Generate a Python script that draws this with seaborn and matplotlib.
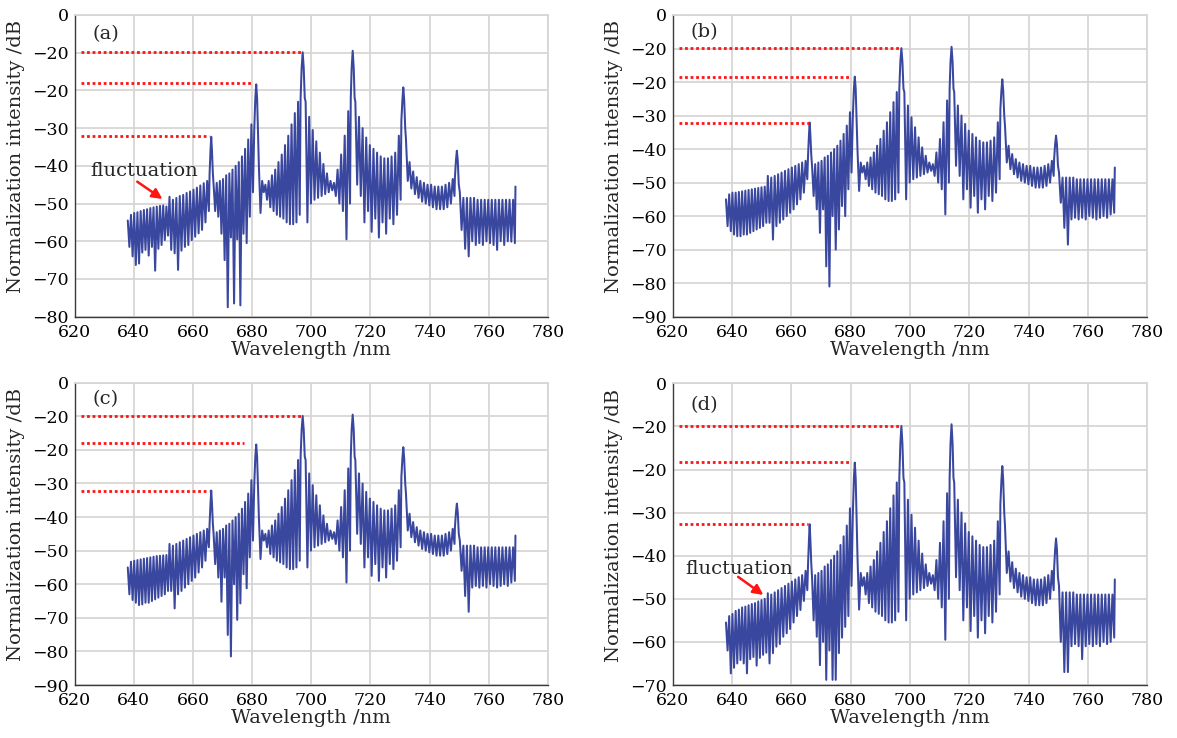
import numpy as np
import matplotlib
matplotlib.use("Agg")
import matplotlib.pyplot as plt
import seaborn as sns

# ---------------- data ----------------
# wavelength bounds of each fringe segment (nm)
L1_RANGE = (638.0, 651.6)
L2_RANGE = (652.1, 665.4)
C1_RANGE = (667.0, 680.3)
C2_RANGE = (682.3, 696.1)
C3_RANGE = (698.1, 713.1)
C4_RANGE = (714.9, 730.2)
C5_RANGE = (732.0, 748.4)
R_RANGE = (750.2, 768.8)
END_WL, END_DB = 769.0, -45.5

# resonance peaks (nm, dB)
P1_WL = [665.65, 665.95, 666.2, 666.45, 666.75]
P2_WL = [680.75, 681.1, 681.4, 681.7, 682.05]
P2_DB = [-30, -22, -18.4, -22, -32]
P3_WL = [696.4, 696.75, 697.1, 697.45, 697.8]
P3_DB = [-22, -14, -9.9, -14, -22]
P4_WL = [713.35, 713.65, 714.0, 714.35, 714.65]
P4_DB = [-22, -14, -9.5, -14, -22]
P5_WL = [730.45, 730.8, 731.1, 731.4, 731.75]
P5_DB = [-28, -22.5, -19.2, -22.5, -30]
P6_WL = [748.55, 748.9, 749.2, 749.5, 749.85]
P6_DB = [-43, -38.5, -36, -38.5, -45]

# fringe tops / bottoms shared by all panels (dB)
C1_TOPS = [-45, -44.5, -44, -43.5, -42.5, -42, -41, -40, -39, -37.5, -35.5, -33, -29]
C2_TOPS = [-40, -44, -45, -44, -42.5, -41, -39, -37, -34.5, -32, -29, -26, -23]
C2_BOTS = [-52.5, -47, -49, -51, -52, -53, -53.5, -54, -55, -55.5, -55.5, -55, -53]
C3_TOPS = [-23, -27, -30.5, -33.5, -36.5, -39.5, -42, -44, -44.5, -41, -37, -32, -25.5]
C3_BOTS = [-55, -50, -49, -48.5, -48, -47.5, -47, -46.5, -48, -50, -52, -59.5, -50]
C4_TOPS = [-23, -27, -30, -32.5, -34.5, -35.5, -36.5, -37.5, -38, -38, -37.5, -36.5, -32]
C4_BOTS = [-45, -48, -55, -52, -57.5, -54, -59, -55, -58, -54, -55.5, -53, -49]
C5_TOPS = [-33, -39, -41.5, -43, -44, -44.5, -45, -45, -45.5, -45.5, -45.5, -45, -44.5, -43.5]
C5_BOTS = [-44, -46, -47.5, -48.5, -49.5, -50, -50.5, -51, -51.5, -51.5, -51.5, -51, -50, -48]
R_TOPS = [-47, -48.5, -48.5, -48.5, -48.5, -49, -49, -49, -49, -49, -49, -49, -49, -49, -49, -49]

# panel (a)
A_L1_TOPS = [-54.5, -53, -52.5, -52.3, -52, -51.7, -51.5, -51.2, -51, -50.8, -50.6, -50.5, -50.8]
A_L1_BOTS = [-61.5, -64, -66.3, -65.9, -63, -62.3, -63.8, -61.5, -67.8, -62, -61, -59.7, -58.5]
A_L2_TOPS = [-48.2, -49, -48.5, -48, -47.7, -47.2, -46.8, -46.3, -45.8, -45.2, -44.6, -44]
A_L2_BOTS = [-62.3, -63.2, -67.6, -62.5, -61.5, -61, -59.7, -58.8, -57.9, -57, -55, -52]
A_P1_DB = [-42, -36, -32.3, -36, -42]
A_C1_BOTS = [-52, -53.5, -58, -65, -77.5, -59, -76.5, -59.5, -77, -58, -60.5, -53.5, -47]
A_R_BOTS = [-57, -62, -64, -60, -61, -60.5, -61, -60, -60.5, -61, -62.3, -60, -61, -60, -60.1, -60.5]

# panel (b)
B_L1_TOPS = [-55, -53.5, -53, -53, -52.8, -52.6, -52.4, -52.2, -52, -51.8, -51.6, -51.4, -51.2]
B_L1_BOTS = [-63, -64.5, -65.5, -66, -66, -65.5, -65.5, -65, -64.5, -64, -63.5, -63, -62]
B_L2_TOPS = [-48, -48.5, -48, -47.5, -47, -46.5, -46, -45.5, -45, -44.5, -44, -43.5]
B_L2_BOTS = [-62, -67, -63, -62, -61, -60, -59, -58, -56.5, -55, -53, -49]
B_P1_DB = [-42, -36, -32.1, -36, -42]
B_C1_BOTS = [-54, -58, -65, -58, -75, -81, -60, -70, -64, -57, -60, -52, -47]
B_R_BOTS = [-56, -63.5, -68.5, -61, -60.5, -61, -60.5, -61, -60, -60.5, -61, -60.5, -60, -60.5, -59.5, -59]

# panel (c)
C_L1_TOPS = [-55, -53.3, -53, -52.8, -52.6, -52.4, -52.2, -52, -51.8, -51.6, -51.5, -51.4, -51.3]
C_L1_BOTS = [-63, -64.7, -65.5, -66.2, -66, -65.5, -65.5, -65, -64.5, -64, -63.5, -63, -62]
C_L2_TOPS = [-48, -48.5, -48, -47.5, -47, -46.5, -46, -45.5, -45, -44.5, -44, -43.5]
C_L2_BOTS = [-62, -67.2, -63, -62, -61, -60, -59, -58, -56.5, -55, -53, -49]
C_P1_DB = [-42, -36, -32.1, -36, -42]
C_C1_BOTS = [-54, -58, -65.2, -58, -75.1, -81.5, -60, -70.6, -65.7, -57, -61.2, -52, -47]
C_R_BOTS = [-56, -63.5, -68.2, -61, -60.5, -61, -60.5, -61, -60, -60.5, -61, -60.5, -60, -60.5, -59.5, -59]

# panel (d)
D_L1_TOPS = [-55.5, -54, -53.5, -52.8, -52.5, -52, -51.8, -51.5, -51.2, -51, -50.6, -50.3, -50]
D_L1_BOTS = [-62, -67.3, -66, -65, -64.2, -65, -67.3, -64, -63.5, -65.5, -63.7, -63, -62.5]
D_L2_TOPS = [-48.7, -49, -48.5, -48, -47.5, -47, -46.5, -46, -45.5, -45, -44.5, -43.5]
D_L2_BOTS = [-65, -62.6, -61.1, -60.5, -58.8, -58, -57, -55.5, -54, -52.6, -50.5, -48]
D_P1_DB = [-42, -36.5, -32.7, -36.5, -42]
D_C1_BOTS = [-55, -58.8, -65.4, -60, -68.8, -62, -68.8, -68.8, -62.6, -59, -56.5, -54, -47]
D_R_BOTS = [-60, -67, -67, -61, -60.5, -61, -64, -61, -60.5, -61, -60.5, -61, -60, -60.5, -60, -59]

# red reference levels: (level dB, end wavelength nm)
A_REF_DB = [-9.7, -18.1, -32.0]
A_REF_END = [696.4, 680.0, 665.3]
B_REF_DB = [-9.9, -18.4, -32.1]
B_REF_END = [696.4, 680.0, 666.1]
C_REF_DB = [-9.8, -17.9, -32.1]
C_REF_END = [697.0, 677.4, 665.3]
D_REF_DB = [-9.9, -18.3, -32.7]
D_REF_END = [696.4, 680.0, 665.7]
REF_START = 622.3

# axes ticks / labels
X_TICKS = [620, 640, 660, 680, 700, 720, 740, 760, 780]
A_Y_TICKS = [0, -10, -20, -30, -40, -50, -60, -70, -80]
A_Y_LABELS = ["0", "−20", "−20", "−30", "−40", "−50", "−60", "−70", "−80"]
B_Y_TICKS = [0, -10, -20, -30, -40, -50, -60, -70, -80, -90]
B_Y_LABELS = ["0", "−20", "−20", "−30", "−40", "−50", "−60", "−70", "−80", "−90"]
D_Y_TICKS = [0, -10, -20, -30, -40, -50, -60, -70]
D_Y_LABELS = ["0", "−20", "−20", "−30", "−40", "−50", "−60", "−70"]

# ---------------- helpers ----------------
def comb(rng, tops, bots):
    n = len(tops)
    x = np.linspace(rng[0], rng[1], 2 * n)
    y = np.empty(2 * n)
    y[0::2] = tops
    y[1::2] = bots
    return x, y


def trace(l1t, l1b, l2t, l2b, p1, c1b, rb):
    parts = [
        comb(L1_RANGE, l1t, l1b),
        comb(L2_RANGE, l2t, l2b),
        (np.array(P1_WL), np.array(p1, float)),
        comb(C1_RANGE, C1_TOPS, c1b),
        (np.array(P2_WL), np.array(P2_DB, float)),
        comb(C2_RANGE, C2_TOPS, C2_BOTS),
        (np.array(P3_WL), np.array(P3_DB, float)),
        comb(C3_RANGE, C3_TOPS, C3_BOTS),
        (np.array(P4_WL), np.array(P4_DB, float)),
        comb(C4_RANGE, C4_TOPS, C4_BOTS),
        (np.array(P5_WL), np.array(P5_DB, float)),
        comb(C5_RANGE, C5_TOPS, C5_BOTS),
        (np.array(P6_WL), np.array(P6_DB, float)),
        comb(R_RANGE, R_TOPS, rb),
        (np.array([END_WL]), np.array([END_DB])),
    ]
    return np.concatenate([p[0] for p in parts]), np.concatenate([p[1] for p in parts])


# ---------------- style ----------------
sns.set_theme(style="whitegrid")
plt.rcParams["font.family"] = ["DejaVu Serif"]
plt.rcParams["axes.unicode_minus"] = True

LINE_COLOR = "#3a479f"
GRID_COLOR = "#d9d5d5"
RED = "#ff1414"

fig = plt.figure(figsize=(11.77, 7.38), dpi=100)

panels = [
    dict(rect=[0.0633, 0.5709, 0.4023, 0.4088], tag="(a)", ylim=-80,
         yt=A_Y_TICKS, yl=A_Y_LABELS,
         data=(A_L1_TOPS, A_L1_BOTS, A_L2_TOPS, A_L2_BOTS, A_P1_DB, A_C1_BOTS, A_R_BOTS),
         ref=(A_REF_DB, A_REF_END),
         fluct=dict(text=(643.7, -41.5), tail=(641.2, -44.2), head=(649.7, -48.8))),
    dict(rect=[0.5714, 0.5709, 0.4035, 0.4088], tag="(b)", ylim=-90,
         yt=B_Y_TICKS, yl=B_Y_LABELS,
         data=(B_L1_TOPS, B_L1_BOTS, B_L2_TOPS, B_L2_BOTS, B_P1_DB, B_C1_BOTS, B_R_BOTS),
         ref=(B_REF_DB, B_REF_END), fluct=None),
    dict(rect=[0.0633, 0.0718, 0.4023, 0.4096], tag="(c)", ylim=-90,
         yt=B_Y_TICKS, yl=B_Y_LABELS,
         data=(C_L1_TOPS, C_L1_BOTS, C_L2_TOPS, C_L2_BOTS, C_P1_DB, C_C1_BOTS, C_R_BOTS),
         ref=(C_REF_DB, C_REF_END), fluct=None),
    dict(rect=[0.5714, 0.0718, 0.4035, 0.4088], tag="(d)", ylim=-70,
         yt=D_Y_TICKS, yl=D_Y_LABELS,
         data=(D_L1_TOPS, D_L1_BOTS, D_L2_TOPS, D_L2_BOTS, D_P1_DB, D_C1_BOTS, D_R_BOTS),
         ref=(D_REF_DB, D_REF_END),
         fluct=dict(text=(642.4, -43.1), tail=(642.1, -44.9), head=(650.6, -49.1))),
]

for p in panels:
    ax = fig.add_axes(p["rect"])
    ax.set_facecolor("white")
    x, y = trace(*p["data"])
    sns.lineplot(x=x, y=y, ax=ax, sort=False, estimator=None,
                 color=LINE_COLOR, linewidth=1.45, zorder=3)

    for lvl, end in zip(*p["ref"]):
        ax.plot([REF_START, end], [lvl, lvl], color=RED,
                linewidth=2.0, dashes=(1.0, 1.0), zorder=4)

    ax.set_xlim(620, 780)
    ax.set_ylim(p["ylim"], 0)
    ax.set_xticks(X_TICKS)
    ax.set_xticklabels([str(t) for t in X_TICKS])
    ax.set_yticks(p["yt"])
    ax.set_yticklabels(p["yl"])
    ax.grid(True, color=GRID_COLOR, linewidth=1.3)
    ax.set_axisbelow(True)
    for s in ["top", "right"]:
        ax.spines[s].set_color(GRID_COLOR)
        ax.spines[s].set_linewidth(1.3)
    for s in ["left", "bottom"]:
        ax.spines[s].set_color("#3a3a3a")
        ax.spines[s].set_linewidth(1.0)
    ax.tick_params(axis="both", direction="in", length=4, width=1,
                   color="#3a3a3a", labelsize=12.5, pad=5, labelcolor="black")
    ax.tick_params(axis="y", pad=4)

    ax.set_xlabel("Wavelength /nm", fontsize=14, labelpad=0)
    ax.set_ylabel("Normalization intensity /dB", fontsize=14)
    ax.yaxis.set_label_coords(-0.105, 0.53)

    ax.text(626.0, -5.0, p["tag"], fontsize=14, ha="left", va="center")

    if p["fluct"] is not None:
        f = p["fluct"]
        ax.text(f["text"][0], f["text"][1], "fluctuation", fontsize=14,
                ha="center", va="center", zorder=5)
        ax.annotate("", xy=f["head"], xytext=f["tail"],
                    arrowprops=dict(arrowstyle="-|>,head_length=0.5,head_width=0.25",
                                    color=RED, lw=1.8, shrinkA=0, shrinkB=0),
                    zorder=5)

fig.savefig("out.png", dpi=100, facecolor="white")
